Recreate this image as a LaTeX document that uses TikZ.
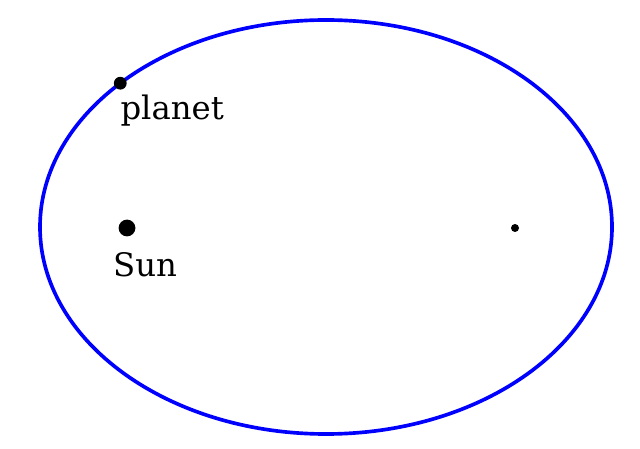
\documentclass[tikz,border=0pt]{standalone}
\usepackage{fontspec}
\setmainfont{DejaVu Serif}
\usepackage{tikz}
\usetikzlibrary{positioning,calc}
\tikzset{orbit/.style={draw=blue, line width=2.6pt},
    body/.style={circle, fill=black, inner sep=0pt},
    name text/.style={font=\fontsize{23}{26}\selectfont, inner sep=0pt}}

\begin{document}
\begin{tikzpicture}
    \useasboundingbox (0,0) rectangle (16,11.2);

    \coordinate (centre) at (8.15,5.525);
    \draw [orbit] (centre) ellipse [x radius=7.15cm, y radius=5.175cm];

    \node [body, minimum size=0.42cm] (sun) at (3.175,5.5) {};
    \node [body, minimum size=0.2cm] (focus) at (12.875,5.5) {};
    \node [body, minimum size=0.32cm] (planet) at ($(centre)+(136:7.15cm and 5.175cm)$) {};

    \node [name text, anchor=north west] (planetlabel) at ([yshift=-0.275cm]planet.center) {planet};
    \node [name text, anchor=north] (sunlabel) at ([xshift=0.45cm,yshift=-0.6cm]sun.center) {Sun};
\end{tikzpicture}
\end{document}
